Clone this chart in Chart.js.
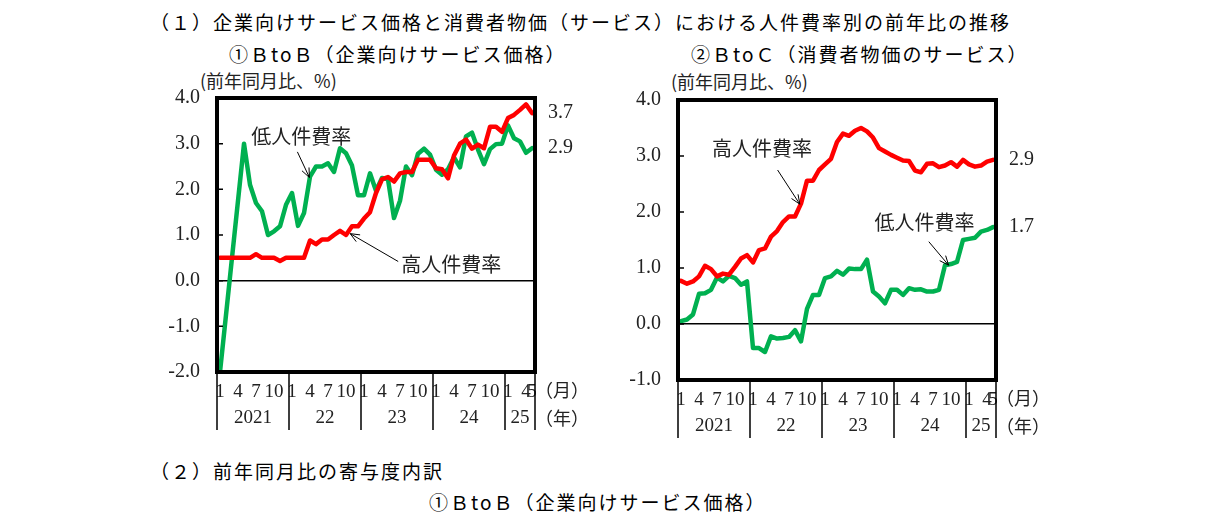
<!DOCTYPE html>
<html lang="ja">
<head>
<meta charset="utf-8">
<script src="https://cdn.jsdelivr.net/npm/chart.js@4.4.1/dist/chart.umd.min.js"></script>
<style>
  html, body { margin: 0; padding: 0; background: #fff; }
  body { width: 1226px; height: 516px; position: relative; overflow: hidden; }
  .txt { position: absolute; white-space: nowrap; line-height: 1; color: #000; }
  .head { font-family: "Noto Sans CJK JP", sans-serif; font-size: 19px; letter-spacing: 2px; }
  .unit { font-family: "Noto Sans CJK JP", serif; font-size: 18px; color: #222; }
  canvas { position: absolute; }
</style>
</head>
<body>
<div class="txt head" style="left:150px;top:12px">（１）企業向けサービス価格と消費者物価（サービス）における人件費率別の前年比の推移</div>
<div class="txt head" style="left:229px;top:44px">①ＢtoＢ（企業向けサービス価格）</div>
<div class="txt head" style="left:691px;top:44px">②ＢtoＣ（消費者物価のサービス）</div>
<div class="txt unit" style="left:200px;top:71px">(前年同月比、%)</div>
<div class="txt unit" style="left:671px;top:72px">(前年同月比、%)</div>
<div class="txt head" style="left:150px;top:461px">（２）前年同月比の寄与度内訳</div>
<div class="txt head" style="left:429px;top:492px">①ＢtoＢ（企業向けサービス価格）</div>

<canvas id="chartB" width="460" height="370" style="left:140px;top:80px"></canvas>
<canvas id="chartC" width="460" height="370" style="left:600px;top:80px"></canvas>

<script>
// months: Jan 2021 .. May 2025
const yearLabels = ['2021', '22', '23', '24', '25'];
const monthTicks = [1, 4, 7, 10];
const lastMonth = 5;

const categories = [];
yearLabels.forEach((yr, k) => {
  const n = k === yearLabels.length - 1 ? lastMonth : 12;
  for (let m = 1; m <= n; m++) categories.push(m);
});

// BtoB (企業向けサービス価格)
const highB = [0.5, 0.5, 0.5, 0.5, 0.5, 0.5, 0.58, 0.5, 0.5, 0.5, 0.43, 0.5,
  0.5, 0.5, 0.5, 0.88, 0.8, 0.9, 0.9, 1.0, 1.09, 1.0, 1.19, 1.19,
  1.36, 1.5, 1.92, 2.22, 2.27, 2.17, 2.35, 2.38, 2.38, 2.65, 2.65, 2.65,
  2.46, 2.44, 2.24, 2.74, 3.0, 3.09, 2.89, 2.98, 2.9, 3.37, 3.37, 3.26,
  3.56, 3.63, 3.74, 3.86, 3.67];
const lowB = [-2.0, -0.75, 0.5, 1.75, 3.0, 2.1, 1.7, 1.52, 1.0, 1.08, 1.19, 1.66,
  1.92, 1.2, 1.48, 2.28, 2.5, 2.5, 2.57, 2.38, 2.9, 2.79, 2.52, 1.87,
  1.87, 2.35, 1.97, 2.25, 2.22, 1.37, 1.75, 2.5, 2.31, 2.78, 2.89, 2.76,
  2.43, 2.32, 2.44, 2.7, 2.48, 3.16, 3.24, 2.87, 2.55, 2.88, 2.99, 3.0,
  3.4, 3.12, 3.05, 2.8, 2.9];

// BtoC (消費者物価のサービス)
const highC = [0.77, 0.72, 0.76, 0.85, 1.04, 0.98, 0.85, 0.9, 0.88, 1.02, 1.17, 1.23,
  1.1, 1.32, 1.35, 1.56, 1.66, 1.82, 1.92, 1.92, 2.15, 2.56, 2.56, 2.75,
  2.85, 2.95, 3.25, 3.4, 3.36, 3.45, 3.5, 3.44, 3.33, 3.14, 3.08, 3.02,
  2.97, 2.92, 2.91, 2.74, 2.71, 2.86, 2.87, 2.8, 2.83, 2.89, 2.81, 2.93,
  2.85, 2.81, 2.83, 2.9, 2.93];
const lowC = [0.05, 0.08, 0.17, 0.54, 0.55, 0.61, 0.83, 0.76, 0.86, 0.82, 0.7, 0.76,
  -0.43, -0.43, -0.5, -0.22, -0.26, -0.25, -0.23, -0.11, -0.31, 0.27, 0.52, 0.52,
  0.82, 0.85, 0.95, 0.88, 0.99, 0.98, 0.98, 1.15, 0.58, 0.49, 0.37, 0.61,
  0.61, 0.52, 0.64, 0.61, 0.62, 0.58, 0.58, 0.61, 1.05, 1.07, 1.11, 1.5,
  1.52, 1.54, 1.65, 1.68, 1.73];

const RED = '#ff0000';
const GREEN = '#00b050';
const SERIF = '"Liberation Serif", "DejaVu Serif", serif';
const JP = '"Noto Sans CJK JP", sans-serif';

// frame, inner ticks, year row, end values and arrow notes
const extras = {
  id: 'extras',
  afterDatasetsDraw(chart, args, opts) {
    const { ctx, chartArea: a, scales: { x, y } } = chart;
    ctx.save();

    ctx.strokeStyle = '#000';
    ctx.lineWidth = 4;
    ctx.strokeRect(a.left, a.top, a.right - a.left, a.bottom - a.top);

    ctx.lineWidth = 1.5;
    ctx.beginPath();
    y.ticks.forEach(t => {
      const py = y.getPixelForValue(t.value);
      ctx.moveTo(a.left, py);
      ctx.lineTo(a.left + 6, py);
    });
    ctx.stroke();

    // year separators + labels
    const starts = [];
    categories.forEach((m, i) => { if (m === 1) starts.push(i); });
    const edges = starts.map(i => i === 0 ? a.left : x.getPixelForValue(i - 0.5));
    edges.push(a.right);
    ctx.lineWidth = 1.5;
    ctx.beginPath();
    edges.forEach(px => {
      ctx.moveTo(px, a.bottom);
      ctx.lineTo(px, a.bottom + 58);
    });
    ctx.stroke();

    ctx.fillStyle = '#222';
    ctx.font = '19px ' + SERIF;
    ctx.textAlign = 'center';
    ctx.textBaseline = 'middle';
    yearLabels.forEach((yr, k) => {
      ctx.fillText(yr, (edges[k] + edges[k + 1]) / 2, a.bottom + 46);
    });

    ctx.font = '18px ' + JP;
    ctx.textAlign = 'left';
    ctx.fillText('（月）', a.right, a.bottom + 18);
    ctx.fillText('（年）', a.right, a.bottom + 46);

    // last values at the right
    ctx.font = '20px ' + SERIF;
    chart.data.datasets.forEach(ds => {
      const v = ds.data[ds.data.length - 1];
      ctx.fillText(v.toFixed(1), a.right + 13, y.getPixelForValue(v));
    });

    // notes with arrows
    ctx.strokeStyle = '#000';
    ctx.lineWidth = 1;
    opts.notes.forEach(n => {
      const tx = x.getPixelForValue(n.at[0]), ty = y.getPixelForValue(n.at[1]);
      const fx = x.getPixelForValue(n.from[0]), fy = y.getPixelForValue(n.from[1]);
      const px = x.getPixelForValue(n.to[0]), py = y.getPixelForValue(n.to[1]);
      ctx.font = '20px ' + JP;
      ctx.textAlign = 'center';
      ctx.fillStyle = '#222';
      ctx.fillText(n.text, tx, ty);
      const ang = Math.atan2(py - fy, px - fx);
      ctx.beginPath();
      ctx.moveTo(fx, fy);
      ctx.lineTo(px, py);
      ctx.moveTo(px - 10 * Math.cos(ang - 0.4), py - 10 * Math.sin(ang - 0.4));
      ctx.lineTo(px, py);
      ctx.lineTo(px - 10 * Math.cos(ang + 0.4), py - 10 * Math.sin(ang + 0.4));
      ctx.stroke();
    });

    ctx.restore();
  }
};

function makeChart(id, high, low, yMin, yMax, yWidth, notes) {
  return new Chart(document.getElementById(id), {
    type: 'line',
    data: {
      labels: categories,
      datasets: [
        { label: '高人件費率', data: high, borderColor: RED, borderWidth: 4.5,
          pointRadius: 0, borderJoinStyle: 'round', borderCapStyle: 'round' },
        { label: '低人件費率', data: low, borderColor: GREEN, borderWidth: 4.5,
          pointRadius: 0, borderJoinStyle: 'round', borderCapStyle: 'round' }
      ]
    },
    options: {
      responsive: false,
      animation: false,
      layout: { padding: { left: 0, top: 18, right: 60, bottom: 40 } },
      plugins: {
        legend: { display: false },
        tooltip: { enabled: false },
        extras: { notes: notes }
      },
      scales: {
        x: {
          offset: true,
          grid: { display: false },
          border: { display: false },
          afterFit(scale) { scale.height = 30; },
          ticks: {
            autoSkip: false,
            maxRotation: 0,
            minRotation: 0,
            padding: 1,
            color: '#222',
            font: { family: SERIF, size: 19 },
            callback(value, index) {
              const m = categories[index];
              return (monthTicks.includes(m) || index === categories.length - 1) ? String(m) : '';
            }
          }
        },
        y: {
          min: yMin,
          max: yMax,
          afterFit(scale) { scale.width = yWidth; },
          border: { display: false },
          grid: {
            // invisible tick marks make the gap between labels and frame
            drawTicks: true,
            tickLength: 17,
            tickColor: 'rgba(0,0,0,0)',
            lineWidth: 1.5,
            color: ctx => (ctx.tick && ctx.tick.value === 0) ? '#000' : 'rgba(0,0,0,0)'
          },
          ticks: {
            stepSize: 1,
            padding: 0,
            color: '#222',
            font: { family: SERIF, size: 20 },
            callback: v => v.toFixed(1)
          }
        }
      }
    },
    plugins: [extras]
  });
}

// nudge layout padding until the plot area sits where the reference has it
function placeArea(chart, want) {
  for (let k = 0; k < 3; k++) {
    const a = chart.chartArea;
    const p = chart.options.layout.padding;
    chart.options.layout.padding = {
      left: p.left + (want.left - a.left),
      top: p.top + (want.top - a.top),
      right: p.right + (a.right - want.right),
      bottom: p.bottom + (a.bottom - want.bottom)
    };
    chart.update();
  }
}

const chartB = makeChart('chartB', highB, lowB, -2, 4, 77, [
  { text: '低人件費率', at: [13.55, 3.15], from: [12.9, 2.82], to: [14.9, 2.26] },
  { text: '高人件費率', at: [38.55, 0.35], from: [29.7, 0.42], to: [21.7, 1.03] }
]);
placeArea(chartB, { left: 77, top: 18, right: 395, bottom: 292 });

const chartC = makeChart('chartC', highC, lowC, -1, 4, 78, [
  { text: '高人件費率', at: [13.5, 3.14], from: [16.1, 2.75], to: [19.8, 2.14] },
  { text: '低人件費率', at: [40.6, 1.82], from: [41.3, 1.47], to: [44.6, 1.05] }
]);
placeArea(chartC, { left: 78, top: 20, right: 396, bottom: 300 });
</script>
</body>
</html>
